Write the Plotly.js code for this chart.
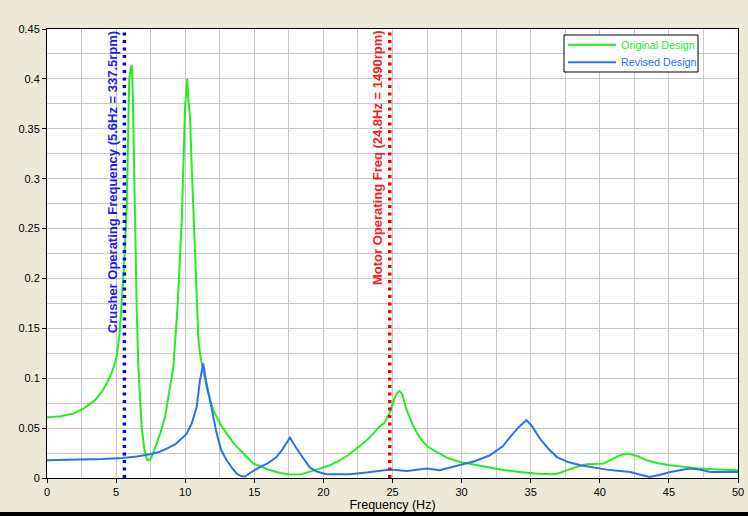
<!DOCTYPE html>
<html>
<head>
<meta charset="utf-8">
<script src="https://cdn.plot.ly/plotly-3.0.1.min.js"></script>
<style>
  html, body { margin: 0; padding: 0; background: #ECE9D8; }
  #chart { width: 748px; height: 516px; }
</style>
</head>
<body>
<div id="chart"></div>
<script>
'use strict';

// Original design response
const origFreq = [0, 1.0, 1.9, 2.7, 3.47, 4.0, 4.32, 4.7, 5.04, 5.25, 5.4, 5.6, 5.77, 5.88, 5.95, 6.05, 6.13, 6.2, 6.25, 6.37,
    6.49, 6.61, 6.85, 7.05, 7.25, 7.45, 7.6, 7.81, 8.2, 8.54, 8.85, 9.14, 9.45, 9.75, 9.99, 10.1, 10.15, 10.22, 10.3, 10.35,
    10.47, 10.6, 10.71, 10.88, 10.95, 11.1, 11.31, 11.6, 12.03, 12.5, 13.0, 13.5, 13.97, 14.5, 14.93, 15.5, 16.0, 16.86, 17.58, 18.3,
    19.0, 19.75, 20.5, 21.2, 21.8, 22.4, 23.0, 23.6, 24.1, 24.4, 24.82, 25.1, 25.3, 25.5, 25.7, 26.03, 26.5, 27.0, 27.5, 28.2,
    29.0, 29.9, 31.0, 32.05, 33.0, 34.2, 35.5, 36.6, 37.1, 37.6, 38.3, 39.05, 40.25, 40.6, 40.98, 41.5, 42.06, 42.7, 43.4, 44.2,
    45.08, 46.2, 47.25, 48.5, 50];
const origAmp = [0.061, 0.062, 0.0646, 0.070, 0.078, 0.087, 0.095, 0.106, 0.121, 0.145, 0.175, 0.22, 0.272, 0.36, 0.40, 0.41, 0.414, 0.39, 0.349, 0.238,
    0.170, 0.111, 0.051, 0.028, 0.018, 0.0185, 0.022, 0.030, 0.045, 0.061, 0.085, 0.111, 0.172, 0.258, 0.372, 0.395, 0.400, 0.38, 0.37, 0.362,
    0.312, 0.26, 0.215, 0.168, 0.140, 0.122, 0.108, 0.088, 0.068, 0.055, 0.0445, 0.035, 0.028, 0.021, 0.0145, 0.0115, 0.0085, 0.005, 0.0034, 0.0034,
    0.006, 0.0094, 0.013, 0.0178, 0.023, 0.0295, 0.036, 0.0445, 0.052, 0.055, 0.066, 0.078, 0.0847, 0.0873, 0.084, 0.068, 0.052, 0.040, 0.032, 0.026,
    0.020, 0.016, 0.013, 0.0104, 0.008, 0.006, 0.0042, 0.0037, 0.005, 0.0077, 0.011, 0.0137, 0.0144, 0.017, 0.0195, 0.023, 0.0245, 0.022, 0.0178, 0.0148,
    0.0127, 0.011, 0.0094, 0.0085, 0.0077];

// Revised design response
const revFreq = [0, 2.5, 4.0, 5.5, 6.5, 7.45, 8.1, 8.66, 9.3, 9.86, 10.1, 10.47, 10.83, 11.07, 11.31, 11.5, 11.8, 12.28, 12.6, 13.0,
    13.4, 13.73, 14.09, 14.33, 14.8, 15.4, 16.0, 16.6, 17.0, 17.3, 17.58, 17.9, 18.3, 19.03, 19.6, 20.24, 21.9, 23.3, 24.82, 26.03,
    27.5, 28.4, 29.9, 31.0, 32.05, 33.0, 33.5, 34.2, 34.7, 35.1, 35.67, 36.3, 36.9, 37.7, 38.6, 39.5, 40.5, 41.3, 42.2, 43.0,
    43.6, 44.3, 45.1, 46.5, 47.2, 48.0, 50];
const revAmp = [0.0178, 0.0182, 0.019, 0.020, 0.0215, 0.0238, 0.026, 0.0295, 0.034, 0.041, 0.0445, 0.0546, 0.0712, 0.098, 0.1147, 0.098, 0.078, 0.0445, 0.028, 0.0178,
    0.010, 0.0044, 0.0017, 0.0015, 0.006, 0.011, 0.015, 0.021, 0.028, 0.035, 0.0405, 0.033, 0.0245, 0.0104, 0.006, 0.0037, 0.0037, 0.0058, 0.0084, 0.0071,
    0.0094, 0.0077, 0.0127, 0.017, 0.0228, 0.032, 0.041, 0.052, 0.0579, 0.052, 0.0395, 0.029, 0.021, 0.016, 0.0127, 0.0105, 0.0084, 0.0072, 0.006, 0.003,
    0.001, 0.003, 0.006, 0.0094, 0.0085, 0.006, 0.006];

// operating frequencies (Hz)
const crusherFreq = 5.6;
const motorFreq = 24.8;
const yMax = 0.45;

const seriesNames = ['Original Design', 'Revised Design'];
const seriesColors = ['#22ee22', '#3070f0'];

// plot area in pixels, used to place the hand drawn legend
const W = 748, H = 516;
const M = {l: 47, r: 10, t: 29, b: 38};
const plotW = W - M.l - M.r, plotH = H - M.t - M.b;
const px = (x) => (x - M.l) / plotW;
const py = (y) => (H - M.b - y) / plotH;

const traces = [
    {
        x: origFreq, y: origAmp, type: 'scatter', mode: 'lines',
        name: seriesNames[0], line: {color: seriesColors[0], width: 2}
    },
    {
        x: revFreq, y: revAmp, type: 'scatter', mode: 'lines',
        name: seriesNames[1], line: {color: seriesColors[1], width: 2}
    },
    {
        x: [crusherFreq, crusherFreq], y: [0, yMax], type: 'scatter', mode: 'lines',
        line: {color: '#0000ff', width: 3.5, dash: '3px,4.5px'}
    },
    {
        x: [motorFreq, motorFreq], y: [0, yMax], type: 'scatter', mode: 'lines',
        line: {color: '#ff0000', width: 3.5, dash: '3px,4.5px'}
    }
];

const shapes = [
    // dark strip along the window bottom
    {type: 'rect', xref: 'paper', yref: 'paper', x0: -0.1, x1: 1.1, y0: py(512), y1: py(517),
     fillcolor: '#000', line: {width: 0}, layer: 'above'},
    // legend box
    {type: 'rect', xref: 'paper', yref: 'paper', x0: px(564), x1: px(698), y0: py(72), y1: py(35),
     fillcolor: '#fff', line: {color: '#000', width: 1}, layer: 'above'}
];
const annotations = [
    {
        x: 4.74, y: 0.296, xref: 'x', yref: 'y', showarrow: false, textangle: -90,
        text: '<b>Crusher Operating Frequency (5.6Hz = 337.5rpm)</b>',
        font: {size: 13, color: '#1a1aff'}
    },
    {
        x: 23.88, y: 0.3207, xref: 'x', yref: 'y', showarrow: false, textangle: -90,
        text: '<b>Motor Operating Freq (24.8Hz = 1490rpm)</b>',
        font: {size: 13, color: '#ff1a1a'}
    }
];

// legend entries
seriesNames.forEach((name, i) => {
    const yy = 44.7 + i * 17.6;
    shapes.push({type: 'line', xref: 'paper', yref: 'paper', x0: px(568), x1: px(616), y0: py(yy), y1: py(yy),
                 line: {color: seriesColors[i], width: 2}, layer: 'above'});
    annotations.push({xref: 'paper', yref: 'paper', x: px(619), y: py(yy), xanchor: 'left', yanchor: 'middle',
                      showarrow: false, text: name, font: {size: 10.8, color: seriesColors[i]}});
});

const layout = {
    width: W,
    height: H,
    margin: M,
    paper_bgcolor: '#ECE9D8',
    plot_bgcolor: '#ffffff',
    font: {family: 'Liberation Sans, Arial, sans-serif', size: 11, color: '#000'},
    showlegend: false,
    xaxis: {
        range: [0, 50], dtick: 5, tick0: 0,
        showline: true, linecolor: '#000', linewidth: 1, mirror: true,
        ticks: 'outside', ticklen: 4, tickcolor: '#000',
        showgrid: true, gridcolor: '#c8c8c8',
        minor: {dtick: 2.5, showgrid: true, gridcolor: '#c8c8c8'},
        zeroline: false,
        title: {text: 'Frequency (Hz)', font: {size: 12.5}, standoff: 1}
    },
    yaxis: {
        range: [0, yMax], dtick: 0.05, tick0: 0,
        showline: true, linecolor: '#000', linewidth: 1, mirror: true,
        ticks: 'outside', ticklen: 4, tickcolor: '#000',
        showgrid: true, gridcolor: '#c8c8c8',
        minor: {dtick: 0.025, showgrid: true, gridcolor: '#c8c8c8'},
        zeroline: false
    },
    annotations: annotations,
    shapes: shapes
};

Plotly.newPlot('chart', traces, layout, {displayModeBar: false, staticPlot: true});
</script>
</body>
</html>
